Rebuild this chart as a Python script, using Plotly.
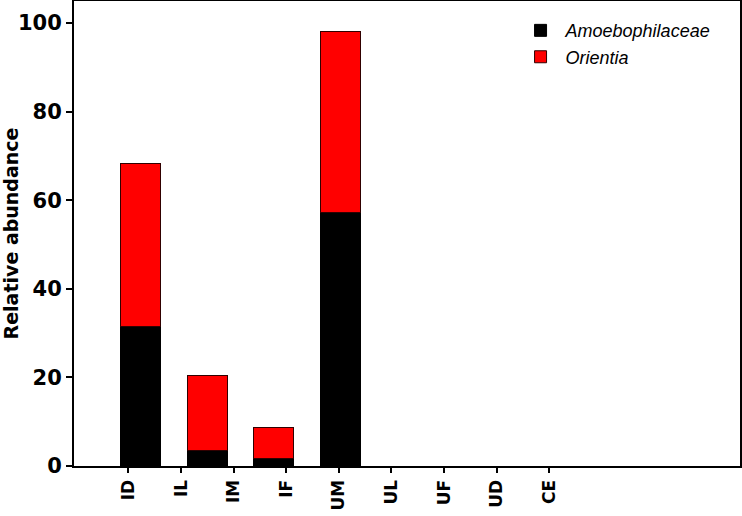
import plotly.graph_objects as go

# sample sites
categories = ['ID', 'IL', 'IM', 'IF', 'UM', 'UL', 'UF', 'UD', 'CE']
# relative abundance per taxon (stacked)
amoebophilaceae = [31.4, 3.6, 1.6, 57.2, 0, 0, 0, 0, 0]
orientia = [36.9, 16.9, 7.0, 41.0, 0, 0, 0, 0, 0]
y_ticks = [0, 20, 40, 60, 80, 100]

fig = go.Figure()
fig.add_trace(go.Bar(x=categories, y=amoebophilaceae, name='<i>Amoebophilaceae</i>',
                     marker=dict(color='black', line=dict(color='black', width=1)),
                     width=0.6))
fig.add_trace(go.Bar(x=categories, y=orientia, name='<i>Orientia</i>',
                     marker=dict(color='#ff0000', line=dict(color='#300000', width=1)),
                     width=0.6))
# invisible trace that carries the tick labels (SigmaPlot put them on their own spacing)
fig.add_trace(go.Scatter(x=categories, y=[0] * len(categories), xaxis='x2', mode='markers',
                         marker=dict(opacity=0), showlegend=False, hoverinfo='skip'))

fig.update_layout(
    width=742, height=516,
    barmode='stack',
    plot_bgcolor='white', paper_bgcolor='white',
    margin=dict(l=74, r=2, t=1, b=50, autoexpand=False),
    font=dict(family='DejaVu Sans', color='black'),
    showlegend=True,
    legend=dict(x=0.663, y=0.976, xanchor='left', yanchor='top', bgcolor='rgba(0,0,0,0)',
                font=dict(family='Liberation Sans', size=18), traceorder='normal',
                itemwidth=40, tracegroupgap=0),
    xaxis=dict(range=[-1.0, 9.0], showticklabels=False, ticks='', showline=True,
               linecolor='black', linewidth=2, mirror=True, showgrid=False, zeroline=False,
               automargin=False),
    xaxis2=dict(overlaying='x', side='bottom', anchor='y', type='category',
                range=[-1.035, 11.625], showline=False, showgrid=False, zeroline=False,
                ticks='outside', ticklen=6, tickwidth=2, tickcolor='black', tickangle=-90,
                automargin=False,
                tickfont=dict(family='DejaVu Sans', size=17, weight='bold')),
    yaxis=dict(range=[0, 105], tickvals=y_ticks, ticks='outside', ticklen=6, tickwidth=2,
               tickcolor='black', showline=True, linecolor='black', linewidth=2, mirror=True,
               showgrid=False, zeroline=False, automargin=True,
               tickfont=dict(family='DejaVu Sans', size=21, weight='bold'),
               title=dict(text='Relative abundance', standoff=7,
                          font=dict(family='DejaVu Sans', size=19, weight='bold'))),
)

# page body has a default 8px margin; drop it so the figure sits at the window corner
fig.write_html('out.html', config={'displayModeBar': False},
               post_script="document.body.style.margin='0px';")
